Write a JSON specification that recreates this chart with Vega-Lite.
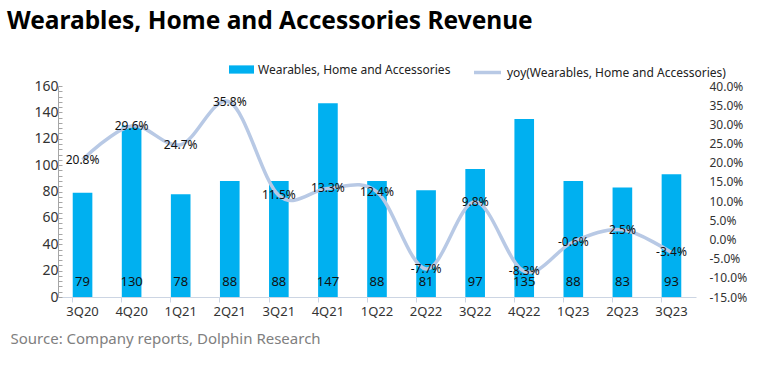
{
  "$schema": "https://vega.github.io/schema/vega-lite/v6.json",
  "width": 638,
  "height": 211,
  "autosize": "none",
  "padding": {"left": 58, "top": 86, "right": 71, "bottom": 68},
  "background": "white",
  "config": {
    "font": "Noto Sans",
    "view": {"stroke": null},
    "axis": {"grid": false, "labelColor": "#333333", "labelFont": "Noto Sans"}
  },
  "title": {
    "text": "Wearables, Home and Accessories Revenue",
    "anchor": "start",
    "frame": "group",
    "dx": -51,
    "offset": 23,
    "fontSize": 24.5,
    "fontWeight": "bold",
    "font": "Noto Sans",
    "color": "#000000"
  },
  "data": {
    "values": [
      {"q": "3Q20", "rev": 79, "yoy": 0.208},
      {"q": "4Q20", "rev": 130, "yoy": 0.296},
      {"q": "1Q21", "rev": 78, "yoy": 0.247},
      {"q": "2Q21", "rev": 88, "yoy": 0.358},
      {"q": "3Q21", "rev": 88, "yoy": 0.115},
      {"q": "4Q21", "rev": 147, "yoy": 0.133},
      {"q": "1Q22", "rev": 88, "yoy": 0.124},
      {"q": "2Q22", "rev": 81, "yoy": -0.077},
      {"q": "3Q22", "rev": 97, "yoy": 0.098},
      {"q": "4Q22", "rev": 135, "yoy": -0.083},
      {"q": "1Q23", "rev": 88, "yoy": -0.006},
      {"q": "2Q23", "rev": 83, "yoy": 0.025},
      {"q": "3Q23", "rev": 93, "yoy": -0.034}
    ]
  },
  "encoding": {
    "x": {
      "field": "q",
      "type": "nominal",
      "sort": null,
      "scale": {"paddingInner": 0.6, "paddingOuter": 0.3}
    }
  },
  "layer": [
    {
      "encoding": {
        "y": {
          "field": "rev",
          "type": "quantitative",
          "scale": {"domain": [0, 160]},
          "axis": {
            "title": null,
            "values": [0,4,8,12,16,20,24,28,32,36,40,44,48,52,56,60,64,68,72,76,80,84,88,92,96,100,104,108,112,116,120,124,128,132,136,140,144,148,152,156,160],
            "labelExpr": "datum.value % 20 == 0 ? datum.label : ''",
            "tickSize": -4,
            "tickColor": "#a6a6a6",
            "domainColor": "#a6a6a6",
            "labelFontSize": 14,
            "labelPadding": 4
          }
        }
      },
      "layer": [
        {
          "mark": {"type": "bar", "color": "#00B0F0"},
          "encoding": {
            "x": {
              "field": "q",
              "type": "nominal",
              "sort": null,
              "axis": {
                "labelAngle": 0,
                "labelFontSize": 13,
                "labelPadding": 8,
                "ticks": false,
                "domainColor": "#ccd5e3",
                "title": "Source: Company reports, Dolphin Research",
                "titleX": -48,
                "titleY": 41,
                "titleAlign": "left",
                "titleBaseline": "middle",
                "titleFontSize": 15,
                "titleFontWeight": "normal",
                "titleColor": "#808080"
              }
            },
            "color": {
              "datum": "Wearables, Home and Accessories",
              "type": "nominal",
              "scale": {"range": ["#00B0F0"]},
              "legend": {
                "orient": "none",
                "legendX": 171,
                "legendY": -29,
                "title": null,
                "symbolType": "M-1,-0.33H1V0.33H-1Z",
                "symbolSize": 625,
                "symbolStrokeWidth": 0,
                "labelFontSize": 12,
                "labelLimit": 0,
                "labelColor": "#222222"
              }
            }
          }
        },
        {
          "mark": {"type": "text", "dy": -15, "fontSize": 13, "color": "#111111"},
          "encoding": {
            "y": {"datum": 0},
            "text": {"field": "rev", "type": "quantitative"}
          }
        }
      ]
    },
    {
      "encoding": {
        "y": {
          "field": "yoy",
          "type": "quantitative",
          "scale": {"domain": [-0.15, 0.4]},
          "axis": {
            "orient": "right",
            "title": null,
            "values": [-0.15,-0.1,-0.05,0,0.05,0.1,0.15,0.2,0.25,0.3,0.35,0.4],
            "format": ".1%",
            "labelExpr": "replace(datum.label, '\u2212', '-')",
            "domain": false,
            "ticks": false,
            "labelPadding": 13,
            "labelFontSize": 12
          }
        }
      },
      "layer": [
        {
          "mark": {"type": "line", "interpolate": "cardinal", "tension": 0, "color": "#B8C9E5", "strokeWidth": 3.5},
          "encoding": {
            "x": {
              "field": "q",
              "type": "nominal",
              "sort": null,
              "axis": {
                "orient": "bottom",
                "bandPosition": 0,
                "labels": false,
                "domain": false,
                "ticks": true,
                "tickSize": 5,
                "tickColor": "#ccd5e3",
                "title": null
              }
            },
            "stroke": {
              "datum": "yoy(Wearables, Home and Accessories)",
              "type": "nominal",
              "scale": {"range": ["#B8C9E5"]},
              "legend": {
                "orient": "none",
                "legendX": 414,
                "legendY": -29,
                "title": null,
                "symbolType": "stroke",
                "symbolSize": 729,
                "symbolStrokeWidth": 3.5,
                "labelFontSize": 12,
                "labelLimit": 0,
                "labelColor": "#222222"
              }
            }
          }
        },
        {
          "mark": {"type": "text", "fontSize": 12, "color": "#111111", "text": {"expr": "replace(format(datum.yoy, '.1%'), '\u2212', '-')"}}
        }
      ]
    }
  ],
  "resolve": {"scale": {"y": "independent"}, "axis": {"x": "independent"}}
}
